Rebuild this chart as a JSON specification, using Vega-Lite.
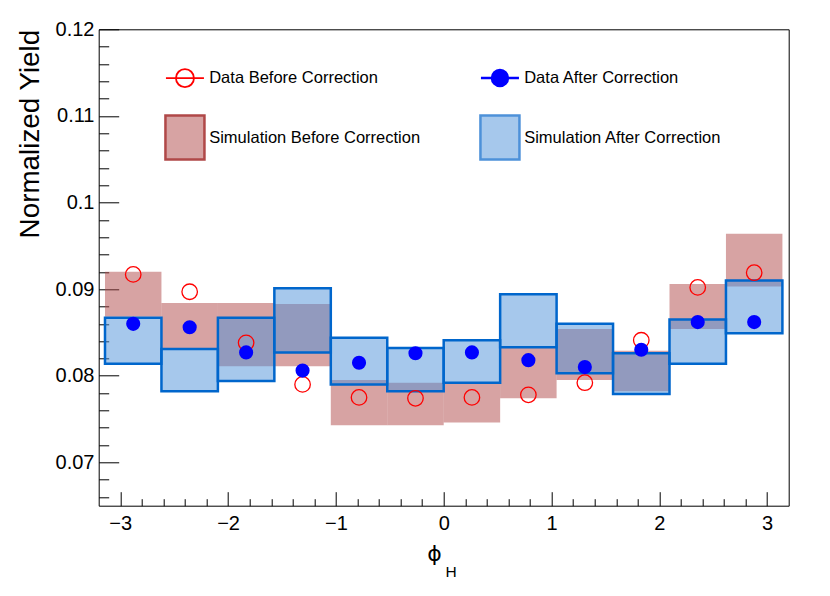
{
  "$schema": "https://vega.github.io/schema/vega-lite/v6.json",
  "width": 690,
  "height": 476.4,
  "autosize": "none",
  "padding": {"left": 98.7, "top": 29.3, "right": 41.3, "bottom": 90.3},
  "background": "#ffffff",
  "config": {
    "font": "Liberation Sans",
    "view": {"stroke": "#000000", "strokeWidth": 1},
    "axis": {"titleFontWeight": "normal", "titleColor": "#000000", "labelColor": "#000000", "tickColor": "#000000", "tickWidth": 1, "domain": false, "grid": false, "labelFlush": false, "labelOverlap": false, "labelBound": false}
  },
  "data": {
    "values": [
      {"lo": -3.1416, "hi": -2.618, "c": -2.8798, "d0": 0.0917, "d1": 0.0860, "s0lo": 0.0868, "s0hi": 0.0920, "s1lo": 0.0814, "s1hi": 0.0867},
      {"lo": -2.618, "hi": -2.0944, "c": -2.3562, "d0": 0.0897, "d1": 0.0856, "s0lo": 0.0831, "s0hi": 0.0884, "s1lo": 0.0782, "s1hi": 0.0831},
      {"lo": -2.0944, "hi": -1.5708, "c": -1.8326, "d0": 0.0838, "d1": 0.0827, "s0lo": 0.0811, "s0hi": 0.0884, "s1lo": 0.0794, "s1hi": 0.0867},
      {"lo": -1.5708, "hi": -1.0472, "c": -1.3090, "d0": 0.0790, "d1": 0.0806, "s0lo": 0.0811, "s0hi": 0.0883, "s1lo": 0.0827, "s1hi": 0.0901},
      {"lo": -1.0472, "hi": -0.5236, "c": -0.7854, "d0": 0.0775, "d1": 0.0815, "s0lo": 0.0743, "s0hi": 0.0795, "s1lo": 0.0790, "s1hi": 0.0844},
      {"lo": -0.5236, "hi": 0, "c": -0.2618, "d0": 0.0774, "d1": 0.0826, "s0lo": 0.0743, "s0hi": 0.0792, "s1lo": 0.0782, "s1hi": 0.0832},
      {"lo": 0, "hi": 0.5236, "c": 0.2618, "d0": 0.0775, "d1": 0.0827, "s0lo": 0.0746, "s0hi": 0.0792, "s1lo": 0.0792, "s1hi": 0.0841},
      {"lo": 0.5236, "hi": 1.0472, "c": 0.7854, "d0": 0.0778, "d1": 0.0818, "s0lo": 0.0774, "s0hi": 0.0833, "s1lo": 0.0833, "s1hi": 0.0894},
      {"lo": 1.0472, "hi": 1.5708, "c": 1.3090, "d0": 0.0792, "d1": 0.0810, "s0lo": 0.0795, "s0hi": 0.0854, "s1lo": 0.0803, "s1hi": 0.0860},
      {"lo": 1.5708, "hi": 2.0944, "c": 1.8326, "d0": 0.0841, "d1": 0.0830, "s0lo": 0.0782, "s0hi": 0.0829, "s1lo": 0.0779, "s1hi": 0.0826},
      {"lo": 2.0944, "hi": 2.618, "c": 2.3562, "d0": 0.0902, "d1": 0.0862, "s0lo": 0.0854, "s0hi": 0.0906, "s1lo": 0.0814, "s1hi": 0.0865},
      {"lo": 2.618, "hi": 3.1416, "c": 2.8798, "d0": 0.0919, "d1": 0.0862, "s0lo": 0.0903, "s0hi": 0.0964, "s1lo": 0.0849, "s1hi": 0.0910}
    ]
  },
  "layer": [
    {
      "mark": {"type": "rect", "fillOpacity": 0.5},
      "encoding": {
        "x": {"field": "lo", "type": "quantitative", "scale": {"domain": [-3.2, 3.2], "nice": false, "zero": false},
          "axis": {"orient": "bottom", "values": [-3, -2, -1, 0, 1, 2, 3], "tickSize": -14, "labelPadding": 22, "labelFontSize": 20, "title": "ϕ", "titleFont": "DejaVu Sans", "titleFontSize": 22, "titleX": 335.3, "titleY": 54.3, "titleAlign": "center", "titleBaseline": "alphabetic", "titleAngle": 0}},
        "x2": {"field": "hi"},
        "y": {"field": "s0lo", "type": "quantitative", "scale": {"domain": [0.065, 0.12], "nice": false, "zero": false},
          "axis": {"orient": "left", "values": [0.07, 0.08, 0.09, 0.1, 0.11, 0.12], "format": ".2~f", "tickSize": -20, "labelPadding": 24.7, "labelFontSize": 20, "title": "Normalized Yield", "titleFontSize": 27.8, "titleAngle": 270, "titleAlign": "right", "titleBaseline": "alphabetic", "titleX": -60.5, "titleY": 0}},
        "y2": {"field": "s0hi"},
        "color": {"datum": "Simulation Before Correction", "type": "nominal",
          "scale": {"domain": ["Data Before Correction", "Data After Correction", "Simulation Before Correction", "Simulation After Correction"], "range": ["#ff0000", "#0000ff", "#b04848", "#4d91d9"]},
          "legend": {"orient": "none", "direction": "horizontal", "legendX": 78, "legendY": 40, "columns": 2, "columnPadding": 54, "rowPadding": 19, "padding": 0, "title": null, "symbolSize": 2500, "labelFontSize": 16.5, "labelColor": "#000000", "labelLimit": 500, "labelOffset": 16,
            "encode": {"symbols": {"update": {
              "shape": {"signal": "(datum.value == 'Simulation Before Correction' || datum.value == 'Simulation After Correction') ? 'M-0.78,-0.88H0.78V0.88H-0.78Z' : (datum.value == 'Data Before Correction' ? 'M-0.76,0H0.76M0.36,0A0.36,0.36,0,1,1,-0.36,0A0.36,0.36,0,1,1,0.36,0Z' : 'M-0.76,0H0.76M0.32,0A0.32,0.32,0,1,1,-0.32,0A0.32,0.32,0,1,1,0.32,0Z')"},
              "size": {"value": 2500},
              "opacity": {"value": 1},
              "fillOpacity": {"signal": "datum.value == 'Data Before Correction' ? 0 : (datum.value == 'Data After Correction' ? 1 : 0.5)"},
              "stroke": {"signal": "datum.value == 'Data Before Correction' ? '#ff0000' : (datum.value == 'Data After Correction' ? '#0000ff' : (datum.value == 'Simulation Before Correction' ? '#a00000' : '#0066cc'))"},
              "strokeWidth": {"signal": "datum.value == 'Data Before Correction' ? 1.8 : 2.5"}
            }}}
          }}
      }
    },
    {
      "mark": {"type": "rect", "fillOpacity": 0.5, "stroke": "#0066cc", "strokeWidth": 2.5},
      "encoding": {
        "x": {"field": "lo", "type": "quantitative", "scale": {"domain": [-3.2, 3.2], "nice": false, "zero": false}, "axis": null},
        "x2": {"field": "hi"},
        "y": {"field": "s1lo", "type": "quantitative", "scale": {"domain": [0.065, 0.12], "nice": false, "zero": false}, "axis": null},
        "y2": {"field": "s1hi"},
        "color": {"datum": "Simulation After Correction", "type": "nominal",
          "legend": {"orient": "none", "direction": "horizontal", "legendX": 78, "legendY": 40, "columns": 2, "columnPadding": 54, "rowPadding": 19, "padding": 0, "title": null, "symbolSize": 2500, "labelFontSize": 16.5, "labelColor": "#000000", "labelLimit": 500, "labelOffset": 16,
            "encode": {"symbols": {"update": {
              "shape": {"signal": "(datum.value == 'Simulation Before Correction' || datum.value == 'Simulation After Correction') ? 'M-0.78,-0.88H0.78V0.88H-0.78Z' : (datum.value == 'Data Before Correction' ? 'M-0.76,0H0.76M0.36,0A0.36,0.36,0,1,1,-0.36,0A0.36,0.36,0,1,1,0.36,0Z' : 'M-0.76,0H0.76M0.32,0A0.32,0.32,0,1,1,-0.32,0A0.32,0.32,0,1,1,0.32,0Z')"},
              "size": {"value": 2500},
              "opacity": {"value": 1},
              "fillOpacity": {"signal": "datum.value == 'Data Before Correction' ? 0 : (datum.value == 'Data After Correction' ? 1 : 0.5)"},
              "stroke": {"signal": "datum.value == 'Data Before Correction' ? '#ff0000' : (datum.value == 'Data After Correction' ? '#0000ff' : (datum.value == 'Simulation Before Correction' ? '#a00000' : '#0066cc'))"},
              "strokeWidth": {"signal": "datum.value == 'Data Before Correction' ? 1.8 : 2.5"}
            }}}
          }}
      }
    },
    {
      "mark": {"type": "point", "filled": false, "opacity": 1, "size": 240, "strokeWidth": 1.3},
      "encoding": {
        "x": {"field": "c", "type": "quantitative", "scale": {"domain": [-3.2, 3.2], "nice": false, "zero": false},
          "axis": {"orient": "bottom", "values": [-2.8, -2.6, -2.4, -2.2, -1.8, -1.6, -1.4, -1.2, -0.8, -0.6, -0.4, -0.2, 0.2, 0.4, 0.6, 0.8, 1.2, 1.4, 1.6, 1.8, 2.2, 2.4, 2.6, 2.8], "labels": false, "tickSize": -7, "title": "H", "titleFontSize": 15.5, "titleX": 351.8, "titleY": 70.3, "titleAlign": "center", "titleBaseline": "alphabetic", "titleAngle": 0}},
        "y": {"field": "d0", "type": "quantitative", "scale": {"domain": [0.065, 0.12], "nice": false, "zero": false},
          "axis": {"orient": "left", "values": [0.066, 0.068, 0.072, 0.074, 0.076, 0.078, 0.082, 0.084, 0.086, 0.088, 0.092, 0.094, 0.096, 0.098, 0.102, 0.104, 0.106, 0.108, 0.112, 0.114, 0.116, 0.118], "labels": false, "tickSize": -10, "title": null}},
        "color": {"datum": "Data Before Correction", "type": "nominal",
          "legend": {"orient": "none", "direction": "horizontal", "legendX": 78, "legendY": 40, "columns": 2, "columnPadding": 54, "rowPadding": 19, "padding": 0, "title": null, "symbolSize": 2500, "labelFontSize": 16.5, "labelColor": "#000000", "labelLimit": 500, "labelOffset": 16,
            "encode": {"symbols": {"update": {
              "shape": {"signal": "(datum.value == 'Simulation Before Correction' || datum.value == 'Simulation After Correction') ? 'M-0.78,-0.88H0.78V0.88H-0.78Z' : (datum.value == 'Data Before Correction' ? 'M-0.76,0H0.76M0.36,0A0.36,0.36,0,1,1,-0.36,0A0.36,0.36,0,1,1,0.36,0Z' : 'M-0.76,0H0.76M0.32,0A0.32,0.32,0,1,1,-0.32,0A0.32,0.32,0,1,1,0.32,0Z')"},
              "size": {"value": 2500},
              "opacity": {"value": 1},
              "fillOpacity": {"signal": "datum.value == 'Data Before Correction' ? 0 : (datum.value == 'Data After Correction' ? 1 : 0.5)"},
              "stroke": {"signal": "datum.value == 'Data Before Correction' ? '#ff0000' : (datum.value == 'Data After Correction' ? '#0000ff' : (datum.value == 'Simulation Before Correction' ? '#a00000' : '#0066cc'))"},
              "strokeWidth": {"signal": "datum.value == 'Data Before Correction' ? 1.8 : 2.5"}
            }}}
          }}
      }
    },
    {
      "mark": {"type": "point", "filled": true, "opacity": 1, "size": 200},
      "encoding": {
        "x": {"field": "c", "type": "quantitative", "scale": {"domain": [-3.2, 3.2], "nice": false, "zero": false}, "axis": null},
        "y": {"field": "d1", "type": "quantitative", "scale": {"domain": [0.065, 0.12], "nice": false, "zero": false}, "axis": null},
        "color": {"datum": "Data After Correction", "type": "nominal",
          "legend": {"orient": "none", "direction": "horizontal", "legendX": 78, "legendY": 40, "columns": 2, "columnPadding": 54, "rowPadding": 19, "padding": 0, "title": null, "symbolSize": 2500, "labelFontSize": 16.5, "labelColor": "#000000", "labelLimit": 500, "labelOffset": 16,
            "encode": {"symbols": {"update": {
              "shape": {"signal": "(datum.value == 'Simulation Before Correction' || datum.value == 'Simulation After Correction') ? 'M-0.78,-0.88H0.78V0.88H-0.78Z' : (datum.value == 'Data Before Correction' ? 'M-0.76,0H0.76M0.36,0A0.36,0.36,0,1,1,-0.36,0A0.36,0.36,0,1,1,0.36,0Z' : 'M-0.76,0H0.76M0.32,0A0.32,0.32,0,1,1,-0.32,0A0.32,0.32,0,1,1,0.32,0Z')"},
              "size": {"value": 2500},
              "opacity": {"value": 1},
              "fillOpacity": {"signal": "datum.value == 'Data Before Correction' ? 0 : (datum.value == 'Data After Correction' ? 1 : 0.5)"},
              "stroke": {"signal": "datum.value == 'Data Before Correction' ? '#ff0000' : (datum.value == 'Data After Correction' ? '#0000ff' : (datum.value == 'Simulation Before Correction' ? '#a00000' : '#0066cc'))"},
              "strokeWidth": {"signal": "datum.value == 'Data Before Correction' ? 1.8 : 2.5"}
            }}}
          }}
      }
    }
  ],
  "resolve": {"axis": {"x": "independent", "y": "independent"}}
}
